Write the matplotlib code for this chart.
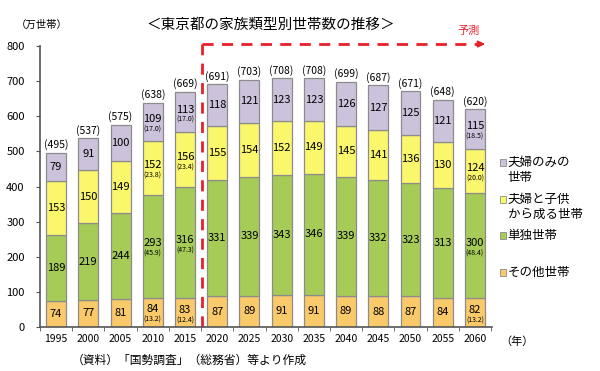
import matplotlib
matplotlib.use("Agg")
import matplotlib.pyplot as plt
import numpy as np

plt.rcParams['font.family'] = ['Noto Sans CJK JP', 'DejaVu Sans']

years = ['1995', '2000', '2005', '2010', '2015', '2020', '2025', '2030',
         '2035', '2040', '2045', '2050', '2055', '2060']
other = [74, 77, 81, 84, 83, 87, 89, 91, 91, 89, 88, 87, 84, 82]
single = [189, 219, 244, 293, 316, 331, 339, 343, 346, 339, 332, 323, 313, 300]
couple_child = [153, 150, 149, 152, 156, 155, 154, 152, 149, 145, 141, 136, 130, 124]
couple = [79, 91, 100, 109, 113, 118, 121, 123, 123, 126, 127, 125, 121, 115]
totals = [495, 537, 575, 638, 669, 691, 703, 708, 708, 699, 687, 671, 648, 620]

# share (%) shown for 2010, 2015, 2060 : (other, single, couple_child, couple)
shares = {3: (13.2, 45.9, 23.8, 17.0), 4: (12.4, 47.3, 23.4, 17.0),
          13: (13.2, 48.4, 20.0, 18.5)}

series = [other, single, couple_child, couple]
colors = ['#F9C96A', '#A6CC57', '#FBF76C', '#CDC2DB']
legend_labels = ['その他世帯', '単独世帯', '夫婦と子供\nから成る世帯', '夫婦のみの\n世帯']

fig = plt.figure(figsize=(6, 3.71), dpi=100)
ax = fig.add_axes([0.0667, 0.1186, 0.7533, 0.757])

x = np.arange(len(years))
w = 0.62
bottom = np.zeros(len(years))
for k, (vals, c) in enumerate(zip(series, colors)):
    vals = np.array(vals)
    ax.bar(x, vals, w, bottom=bottom, color=c, edgecolor='#8c8c8c', linewidth=0.9)
    for i, v in enumerate(vals):
        cy = bottom[i] + v / 2
        if i in shares:
            ax.text(x[i], cy + 8, str(v), ha='center', va='center', fontsize=8)
            ax.text(x[i], cy - 22, '(%.1f)' % shares[i][k], ha='center',
                    va='center', fontsize=5)
        else:
            ax.text(x[i], cy, str(v), ha='center', va='center', fontsize=8)
    bottom += vals

for i, t in enumerate(totals):
    ax.text(x[i], t + 8, '(%d)' % t, ha='center', va='bottom', fontsize=7.5)

ax.set_xlim(-0.46, 13.53)
ax.set_ylim(0, 800)
ax.set_yticks(range(0, 801, 100))
ax.set_xticks(x)
ax.set_xticklabels(years, fontsize=7.5)
ax.set_xticks(np.arange(-0.5, 14, 1), minor=True)
ax.tick_params(axis='x', which='major', length=0, pad=5)
ax.tick_params(axis='x', which='minor', length=3, direction='out', color='#555555')
ax.tick_params(axis='y', labelsize=8, length=3, pad=8, direction='out', color='#555555')
for s in ['top', 'right']:
    ax.spines[s].set_visible(False)
ax.spines['left'].set_color('#555555')
ax.spines['bottom'].set_color('#555555')
ax.spines['left'].set_linewidth(1.2)
ax.spines['bottom'].set_linewidth(1.2)

# forecast marker
ax.plot([4.52, 4.52], [0, 806], color='#E8202A', lw=2, ls=(0, (4, 3)), clip_on=False)
ax.plot([4.52, 13.2], [806, 806], color='#E8202A', lw=2, ls=(0, (4, 3)), clip_on=False)
ax.annotate('', xy=(13.4, 806), xytext=(13.1, 806),
            arrowprops=dict(arrowstyle='-|>', color='#E8202A', lw=1.5,
                            mutation_scale=9), annotation_clip=False)
ax.text(12.8, 843, '予測', color='#E8202A', ha='center', va='center', fontsize=8)

fig.text(0.452, 0.933, '＜東京都の家族類型別世帯数の推移＞', ha='center', va='center',
         fontsize=10.5)
fig.text(0.026, 0.933, '（万世帯）', ha='left', va='center', fontsize=7.5)
fig.text(0.833, 0.078, '（年）', ha='left', va='center', fontsize=8)
fig.text(0.12, 0.03, '（資料）「国勢調査」（総務省）等より作成', ha='left',
         va='center', fontsize=8.5)

# legend
leg_y = [272, 235, 199, 162]
for lab, c, py in zip(legend_labels, colors, leg_y):
    fy = 1 - py / 371
    fig.patches.append(plt.Rectangle((0.833, fy - 0.0095), 0.011, 0.018,
                                     transform=fig.transFigure,
                                     facecolor=c, edgecolor='#8c8c8c', lw=0.6))
    for j, line in enumerate(lab.split('\n')):
        fig.text(0.846, fy - j * 15 / 371, line, ha='left', va='center', fontsize=9)

fig.savefig('out.png', dpi=100)
